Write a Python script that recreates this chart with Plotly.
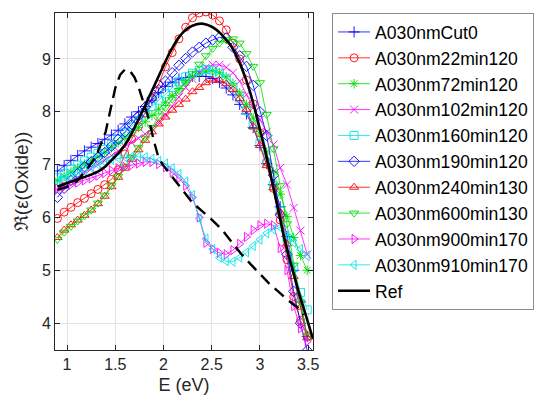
import plotly.graph_objects as go

# photon energy grid shared by the measured samples (eV)
energy = [0.90, 0.97, 1.04, 1.11, 1.18, 1.25, 1.32, 1.39, 1.46, 1.53,
          1.60, 1.67, 1.74, 1.81, 1.88, 1.95, 2.02, 2.09, 2.16, 2.23,
          2.30, 2.37, 2.44, 2.51, 2.58, 2.65, 2.72, 2.79, 2.86, 2.93,
          3.00, 3.07, 3.14, 3.21, 3.28, 3.35, 3.42, 3.49]

cut0 = [6.88, 6.98, 7.08, 7.17, 7.26, 7.33, 7.40, 7.48, 7.56, 7.65,
        7.77, 7.90, 8.00, 8.10, 8.22, 8.36, 8.48, 8.56, 8.62, 8.65,
        8.67, 8.67, 8.67, 8.63, 8.56, 8.45, 8.32, 8.14, 7.96, 7.70,
        7.36, 7.02, 6.62, 6.20, 5.64, 5.00, 4.40, 3.75]
min22 = [5.98, 6.10, 6.19, 6.28, 6.36, 6.45, 6.53, 6.62, 6.72, 6.90,
         7.20, 7.48, 7.72, 7.98, 8.25, 8.52, 8.85, 9.12, 9.38, 9.60,
         9.78, 9.87, 9.89, 9.83, 9.72, 9.55, 9.30, 9.00, 8.60, 8.15,
         7.60, 7.05, 6.55, 5.95, 5.20, 4.50, 4.05, 3.75]
min72 = [6.70, 6.78, 6.86, 6.94, 7.01, 7.08, 7.15, 7.23, 7.32, 7.41,
         7.50, 7.60, 7.70, 7.81, 7.93, 8.05, 8.18, 8.31, 8.44, 8.56,
         8.66, 8.73, 8.77, 8.78, 8.74, 8.66, 8.54, 8.36, 8.14, 7.88,
         7.58, 7.24, 6.86, 6.44, 6.02, 5.62, 5.28, 5.00]
min102 = [6.52, 6.60, 6.68, 6.76, 6.84, 6.92, 7.00, 7.08, 7.17, 7.26,
          7.34, 7.42, 7.50, 7.58, 7.68, 7.80, 7.94, 8.10, 8.28, 8.46,
          8.62, 8.75, 8.84, 8.89, 8.89, 8.84, 8.74, 8.58, 8.32, 8.08,
          7.85, 7.62, 7.38, 6.94, 6.62, 6.18, 5.75, 5.30]
min160 = [6.75, 6.83, 6.91, 6.99, 7.07, 7.14, 7.21, 7.29, 7.38, 7.48,
          7.60, 7.72, 7.84, 7.96, 8.10, 8.22, 8.34, 8.46, 8.57, 8.66,
          8.73, 8.78, 8.80, 8.79, 8.73, 8.62, 8.46, 8.26, 8.02, 7.74,
          7.40, 7.02, 6.60, 6.12, 5.60, 5.05, 4.58, 4.25]
min190 = [6.38, 6.55, 6.70, 6.83, 6.96, 7.05, 7.14, 7.23, 7.35, 7.48,
          7.62, 7.76, 7.92, 8.09, 8.26, 8.42, 8.58, 8.74, 8.88, 9.01,
          9.13, 9.22, 9.30, 9.36, 9.41, 9.40, 9.22, 9.06, 8.86, 8.50,
          8.00, 7.55, 6.80, 6.05, 5.30, 4.60, 4.00, 3.48]
min240 = [5.62, 5.76, 5.86, 5.95, 6.04, 6.14, 6.26, 6.40, 6.58, 6.76,
          6.93, 7.10, 7.28, 7.46, 7.62, 7.77, 7.90, 8.03, 8.14, 8.24,
          8.38, 8.46, 8.55, 8.60, 8.60, 8.53, 8.42, 8.25, 8.04, 7.72,
          7.36, 6.98, 6.56, 6.10, 5.50, 4.88, 4.30, 3.72]
min600 = [5.58, 5.72, 5.83, 5.93, 6.03, 6.14, 6.27, 6.42, 6.60, 6.78,
          6.96, 7.14, 7.32, 7.50, 7.70, 7.92, 8.08, 8.24, 8.40, 8.56,
          8.72, 8.90, 9.06, 9.20, 9.30, 9.36, 9.38, 9.30, 9.10, 8.86,
          8.55, 7.95, 7.30, 6.60, 5.88, 5.10, 4.40, 3.75]
min900 = [6.55, 6.58, 6.62, 6.66, 6.70, 6.74, 6.79, 6.84, 6.89, 6.93,
          6.96, 6.99, 7.02, 7.05, 7.05, 7.01, 6.95, 6.85, 6.74, 6.60,
          6.38, 6.00, 5.52, 5.40, 5.33, 5.30, 5.38, 5.50, 5.63, 5.76,
          5.85, 5.88, 5.85, 5.42, 5.00, 4.32, 3.90, 3.65]
min910 = [6.68, 6.72, 6.77, 6.82, 6.88, 6.94, 7.00, 7.05, 7.10, 7.12,
          7.14, 7.15, 7.15, 7.14, 7.11, 7.07, 7.02, 6.93, 6.82, 6.68,
          6.42, 5.98, 5.60, 5.40, 5.24, 5.17, 5.16, 5.24, 5.34, 5.46,
          5.58, 5.70, 5.77, 5.81, 5.66, 5.52, 5.40, 5.27]

ref_energy = [0.90, 0.95, 1.00, 1.05, 1.10, 1.15, 1.20, 1.25, 1.30, 1.35,
              1.40, 1.45, 1.50, 1.55, 1.60, 1.65, 1.70, 1.75, 1.80, 1.85,
              1.90, 1.95, 2.00, 2.05, 2.10, 2.15, 2.20, 2.25, 2.30, 2.35,
              2.40, 2.45, 2.50, 2.55, 2.60, 2.65, 2.70, 2.75, 2.80, 2.85,
              2.90, 2.95, 3.00, 3.05, 3.10, 3.15, 3.20, 3.25, 3.30, 3.35,
              3.40, 3.45, 3.50, 3.55]
ref_eps = [6.58, 6.62, 6.65, 6.68, 6.71, 6.74, 6.77, 6.81, 6.85, 6.90,
           6.97, 7.06, 7.15, 7.25, 7.37, 7.52, 7.70, 7.88, 8.08, 8.28,
           8.48, 8.68, 8.88, 9.07, 9.24, 9.39, 9.50, 9.58, 9.63, 9.66,
           9.67, 9.65, 9.61, 9.55, 9.47, 9.37, 9.25, 9.08, 8.88, 8.64,
           8.36, 8.03, 7.68, 7.30, 6.90, 6.47, 6.02, 5.62, 5.26, 4.92,
           4.60, 4.30, 4.00, 3.70]

dash_energy = [0.90, 1.00, 1.10, 1.20, 1.30, 1.40, 1.45, 1.50, 1.55, 1.60,
               1.65, 1.70, 1.75, 1.80, 1.85, 1.90, 1.95, 2.00, 2.10, 2.20,
               2.30, 2.40, 2.50, 2.60, 2.70, 2.80, 2.90, 3.00, 3.10, 3.20,
               3.30, 3.40, 3.45]
dash_eps = [6.52, 6.58, 6.68, 6.90, 7.15, 7.62, 8.04, 8.45, 8.70, 8.80,
            8.78, 8.65, 8.42, 8.15, 7.85, 7.45, 7.12, 6.98, 6.74, 6.50,
            6.28, 6.12, 5.96, 5.78, 5.55, 5.32, 5.12, 4.92, 4.74, 4.58,
            4.42, 4.28, 4.15]

names = ["A030nmCut0", "A030nm22min120", "A030nm72min120", "A030nm102min120",
         "A030nm160min120", "A030nm190min120", "A030nm240min130",
         "A030nm600min130", "A030nm900min170", "A030nm910min170"]
series = [cut0, min22, min72, min102, min160, min190, min240, min600, min900, min910]
colors = ["#0000ff", "#ff0000", "#00dd00", "#ff00ff", "#00e5e5",
          "#0000ff", "#ff0000", "#00dd00", "#ff00ff", "#00e5e5"]
symbols = ["cross-thin", "circle-open", "asterisk", "x-thin", "square-open",
           "diamond-open", "triangle-up-open", "triangle-down-open",
           "triangle-right-open", "triangle-left-open"]

fig = go.Figure()
for name, vals, col, sym in zip(names, series, colors, symbols):
    fig.add_trace(go.Scatter(
        x=energy, y=vals, name=name, mode="lines+markers",
        line=dict(color=col, width=0.8),
        marker=dict(symbol=sym, size=8, color=col, line=dict(color=col, width=0.9)),
    ))

fig.add_trace(go.Scatter(x=ref_energy, y=ref_eps, name="Ref",
                         mode="lines", line=dict(color="black", width=2.6)))
fig.add_trace(go.Scatter(x=dash_energy, y=dash_eps, mode="lines", showlegend=False,
                         line=dict(color="black", width=2.4, dash="12px,7px")))

sans = "Liberation Sans, Arial, sans-serif"
axis_font = dict(family=sans, size=16, color="#262626")
common = dict(showline=True, mirror="ticks", linecolor="#262626", linewidth=1,
              ticks="inside", ticklen=5, tickcolor="#262626", showgrid=True,
              gridcolor="#e3e3e3", gridwidth=1, zeroline=False, tickfont=axis_font)

fig.update_xaxes(range=[0.875, 3.55], tickvals=[1, 1.5, 2, 2.5, 3, 3.5],
                 ticktext=["1", "1.5", "2", "2.5", "3", "3.5"],
                 title=dict(text="E (eV)", font=dict(size=18, family=sans, color="#262626"),
                            standoff=6),
                 **common)
fig.update_yaxes(range=[3.49, 9.87], tickvals=[4, 5, 6, 7, 8, 9],
                 title=dict(text="\u211c(\u03b5(Oxide))",
                            font=dict(size=19, family=sans, color="#262626"),
                            standoff=8),
                 **common)

fig.update_layout(
    width=550, height=410,
    margin=dict(l=55, r=237, t=13, b=60, pad=0),
    plot_bgcolor="white", paper_bgcolor="white",
    legend=dict(x=1.074, y=1, xanchor="left", yanchor="top",
                bordercolor="#8c8c8c", borderwidth=1, bgcolor="white",
                font=dict(family=sans, size=17.6, color="black"),
                itemwidth=32, tracegroupgap=0),
)

# page body has a default 8px margin; drop it so the figure sits at the window corner
fig.write_html("out.html", config={"displayModeBar": False},
               post_script="document.body.style.margin='0';")
